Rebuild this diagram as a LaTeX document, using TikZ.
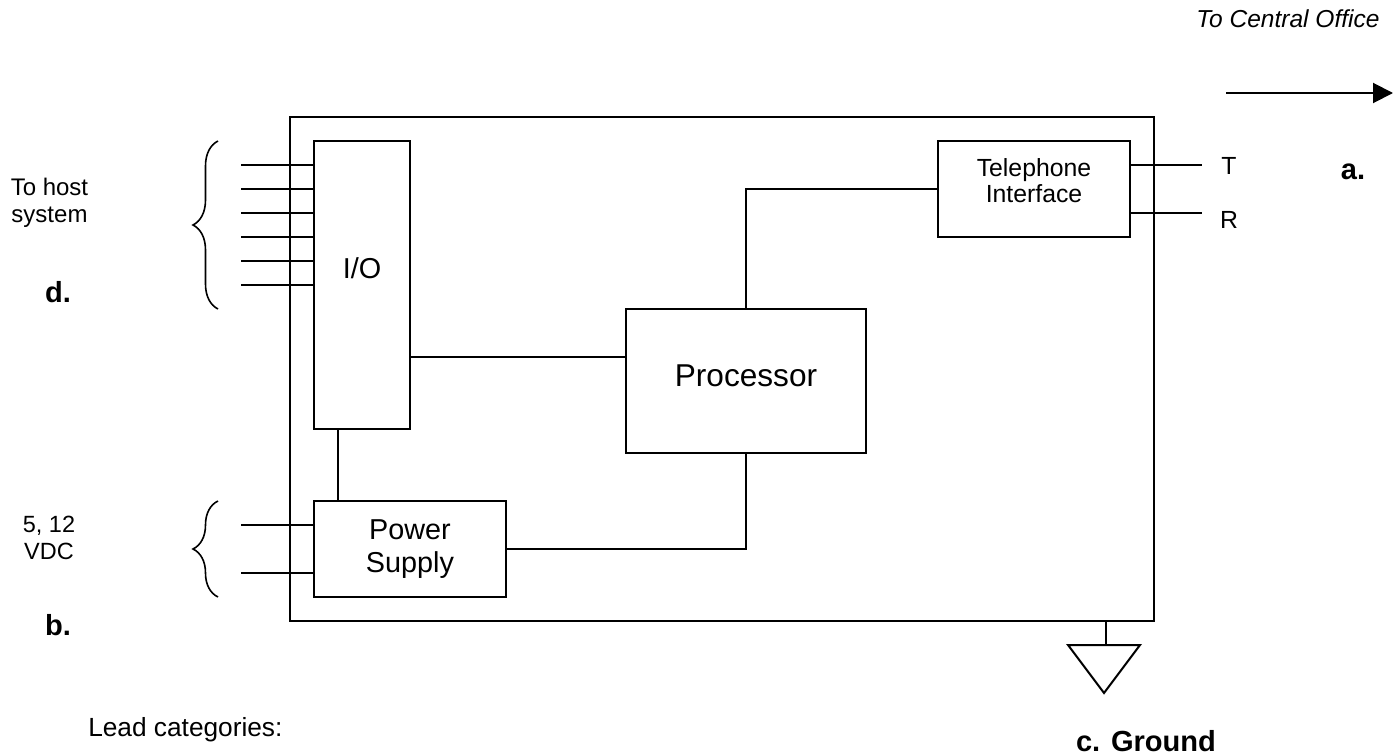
\documentclass[tikz,border=0pt]{standalone}
\usepackage{fontspec}
\setmainfont{Liberation Sans}
\usetikzlibrary{decorations.pathreplacing,calc}
\usetikzlibrary{arrows.meta, positioning}
\tikzset{
  block/.style={
    draw,
    rectangle,
    line width=1.5pt,
    inner sep=0pt,
    align=center,
  },
  lead/.style={
    line width=1.5pt
  },
  leadbrace/.style={
    line width=1.2pt,
    decorate,
    decoration={brace,amplitude=18.75pt}
  },
  caption/.style={
    align=center,
    inner sep=0pt,
    font=\fontsize{18}{20}\selectfont
  },
  tag/.style={
    inner sep=0pt,
    font=\fontsize{21.8}{26}\selectfont\bfseries
  }
}

\begin{document}
\begin{tikzpicture}[x=0.75pt,y=-0.75pt]
  \useasboundingbox (0,0) rectangle (1397,756);

  % blocks
  \node[block, minimum width=648pt, minimum height=378pt] (board) at (722,369) {};
  \node[block, minimum width=72pt, minimum height=216pt, text height=16pt, text depth=26pt, font=\fontsize{21.6}{26}\selectfont] (io) at (362,285) {I/O};
  \node[block, minimum width=180pt, minimum height=108pt, text height=17pt, text depth=9.5pt, font=\fontsize{23.7}{28}\selectfont] (proc) at (746,381) {Processor};
  \node[block, minimum width=144pt, minimum height=72pt, font=\fontsize{18.6}{20}\selectfont] (tel) at (1034,189) {Telephone\\Interface\\[-7.2pt]};
  \node[block, minimum width=144pt, minimum height=72pt, font=\fontsize{21.6}{25}\selectfont] (psu) at (410,549) {Power\\Supply};

  % inner wiring
  \coordinate (iobus) at (518,357);
  \coordinate (iops) at (338,465);
  \draw[lead] (iobus -| io.east) -- (iobus -| proc.west);
  \draw[lead] (iops |- io.south) -- (iops |- psu.north);
  \draw[lead] (psu.east) -- (proc.south |- psu.east) -- (proc.south);
  \draw[lead] (proc.north) -- (proc.north |- tel.west) -- (tel.west);

  % host leads
  \foreach \n/\y in {1/165,2/189,3/213,4/237,5/261,6/285} {
    \coordinate (h\n) at (241,\y);
    \draw[lead] (h\n) -- (h\n -| io.west);
  }
  \foreach \n/\y in {1/525,2/573} {
    \coordinate (p\n) at (241,\y);
    \draw[lead] (p\n) -- (p\n -| psu.west);
  }

  % line side
  \node[caption, font=\fontsize{18.6}{20}\selectfont] (tip) at (1229,166) {T};
  \node[caption, font=\fontsize{18.6}{20}\selectfont] (ring) at (1229,220) {R};
  \coordinate (tend) at (1202,165);
  \coordinate (rend) at (1202,213);
  \draw[lead] (tend -| tel.east) -- (tend);
  \draw[lead] (rend -| tel.east) -- (rend);

  % braces
  \coordinate (b1) at (218,309);
  \coordinate (b2) at (218,141);
  \coordinate (b3) at (218,597);
  \coordinate (b4) at (218,501);
  \draw[leadbrace] (b1) -- (b2);
  \draw[leadbrace] (b3) -- (b4);

  % ground
  \coordinate (gndtop) at (1106,645);
  \coordinate (gl) at (1068,645);
  \coordinate (gr) at (1140,645);
  \coordinate (gb) at (1104,693);
  \draw[lead] (gndtop |- board.south) -- (gndtop);
  \draw[lead, line join=miter] (gl) -- (gr) -- (gb) -- cycle;

  % direction arrow
  \coordinate (co1) at (1226,93);
  \coordinate (co2) at (1393,93);
  \draw[lead, -{Triangle[length=15pt,width=15pt]}] (co1) -- (co2);

  % labels
  \node[caption, font=\fontsize{18.4}{20}\selectfont\itshape] (office) at (1288,19) {To Central Office};
  \node[caption] (host) at (49.5,203) {To host\\system};
  \node[caption, font=\fontsize{17.6}{20}\selectfont] (vdc) at (49,538) {5, 12\\VDC};
  \node[caption, font=\fontsize{19.7}{22}\selectfont, anchor=west] (cats) at (88,730) {Lead categories:};
  \node[tag] (taga) at (1353,172) {a.};
  \node[tag] (tagb) at (58,625) {b.};
  \node[tag] (tagc) at (1146,741) {c. Ground};
  \node[tag] (tagd) at (58,292) {d.};
\end{tikzpicture}
\end{document}
